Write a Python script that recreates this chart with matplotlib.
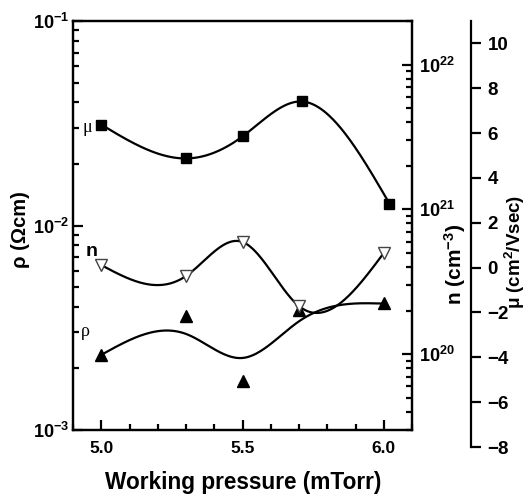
import numpy as np
import matplotlib
matplotlib.use("Agg")
import matplotlib.pyplot as plt
from matplotlib.ticker import FixedLocator, MultipleLocator, FuncFormatter, LogLocator, NullFormatter

plt.rcParams['font.family'] = 'Liberation Sans'
plt.rcParams['mathtext.fontset'] = 'custom'
plt.rcParams['mathtext.rm'] = 'Liberation Sans'
plt.rcParams['mathtext.bf'] = 'Liberation Sans:bold'
plt.rcParams['mathtext.it'] = 'Liberation Sans:italic'

# data
pressure = [5.0, 5.3, 5.5, 5.7, 6.0]
pressure_mu = [5.0, 5.3, 5.5, 5.71, 6.02]
rho = [2.33e-3, 3.61e-3, 1.74e-3, 3.86e-3, 4.18e-3]
rho_curve = [2.33e-3, 2.95e-3, 2.25e-3, 3.4e-3, 4.15e-3]   # smoothed line drawn through rho
n_conc = [4.13e20, 3.47e20, 5.96e20, 2.15e20, 5.0e20]
mu = [6.38, 4.87, 5.85, 7.41, 2.86]


def nat_spline(x, y, xs):
    # natural cubic spline
    x = np.asarray(x, float)
    y = np.asarray(y, float)
    n = len(x)
    h = np.diff(x)
    A = np.zeros((n, n))
    r = np.zeros(n)
    A[0, 0] = A[-1, -1] = 1
    for i in range(1, n - 1):
        A[i, i - 1] = h[i - 1]
        A[i, i] = 2 * (h[i - 1] + h[i])
        A[i, i + 1] = h[i]
        r[i] = 6 * ((y[i + 1] - y[i]) / h[i] - (y[i] - y[i - 1]) / h[i - 1])
    M = np.linalg.solve(A, r)
    out = np.empty_like(xs)
    for k, xv in enumerate(xs):
        i = min(max(np.searchsorted(x, xv) - 1, 0), n - 2)
        hi = h[i]
        a = x[i + 1] - xv
        b = xv - x[i]
        out[k] = (M[i] * a ** 3 + M[i + 1] * b ** 3) / (6 * hi) \
            + (y[i] / hi - M[i] * hi / 6) * a + (y[i + 1] / hi - M[i + 1] * hi / 6) * b
    return out


def pow10(v, p):
    return r"$\mathbf{10^{%d}}$" % round(np.log10(v))


W, H = 528, 497
fig = plt.figure(figsize=(W / 100, H / 100), dpi=100)
left, right, top, bottom = 73 / W, 412 / W, 1 - 21 / H, 1 - 430 / H
ax = fig.add_axes([left, bottom, right - left, top - bottom])
ax2 = ax.twinx()
ax3 = fig.add_axes([left, 1 - 447 / H, right - left, (447 - 21) / H])
ax3.patch.set_visible(False)

lw = 1.6
for a in (ax, ax2):
    for s in a.spines.values():
        s.set_linewidth(lw)

# left: resistivity
ax.set_yscale('log')
ax.set_ylim(1e-3, 1e-1)
ax.set_xlim(4.9, 6.1)
ax.xaxis.set_major_locator(FixedLocator([5.0, 5.5, 6.0]))
ax.xaxis.set_minor_locator(MultipleLocator(0.1))
ax.xaxis.set_major_formatter(FuncFormatter(lambda v, p: f"{v:.1f}"))
ax.yaxis.set_major_locator(FixedLocator([1e-3, 1e-2, 1e-1]))
ax.yaxis.set_minor_locator(LogLocator(base=10, subs=np.arange(2, 10)))
ax.yaxis.set_minor_formatter(NullFormatter())
ax.yaxis.set_major_formatter(FuncFormatter(pow10))
ax.tick_params(axis='both', which='both', direction='in', top=False, right=False, width=lw)
ax.tick_params(axis='both', which='major', length=7)
ax.tick_params(axis='x', which='major', labelsize=12.5, pad=8)
ax.tick_params(axis='y', which='major', labelsize=13, pad=3)
ax.tick_params(axis='both', which='minor', length=4)
for t in ax.get_xticklabels():
    t.set_fontweight('bold')

# right: carrier concentration
ax2.set_yscale('log')
ax2.set_ylim(3e19, 2e22)
ax2.yaxis.set_major_locator(FixedLocator([1e20, 1e21, 1e22]))
ax2.yaxis.set_minor_locator(LogLocator(base=10, subs=np.arange(2, 10)))
ax2.yaxis.set_minor_formatter(NullFormatter())
ax2.yaxis.set_major_formatter(FuncFormatter(pow10))
ax2.tick_params(axis='y', which='both', direction='in', width=lw)
ax2.tick_params(axis='y', which='major', length=7, labelsize=13, pad=5)
ax2.tick_params(axis='y', which='minor', length=4)

# third: mobility
ax3.set_xlim(4.9, 6.1)
ax3.set_ylim(-8, 11)
for k in ('left', 'top', 'bottom'):
    ax3.spines[k].set_visible(False)
ax3.spines['right'].set_position(('axes', (471 - 73) / (412 - 73)))
ax3.spines['right'].set_linewidth(lw)
ax3.set_xticks([])
ax3.yaxis.set_ticks_position('right')
ax3.set_yticks(np.arange(-8, 11, 2))
ax3.tick_params(axis='y', direction='out', length=7, width=lw, labelsize=13.5, pad=5)
for t in ax3.get_yticklabels():
    t.set_fontweight('bold')

xs = np.linspace(5.0, 6.0, 300)
xs_mu = np.linspace(pressure_mu[0], pressure_mu[-1], 300)

# curves
ax.plot(xs, 10 ** nat_spline(pressure, np.log10(rho_curve), xs), color='black', lw=1.6, zorder=2)
ax2.plot(xs, 10 ** nat_spline(pressure, np.log10(n_conc), xs), color='black', lw=1.6, zorder=2)
ax3.plot(xs_mu, nat_spline(pressure_mu, mu, xs_mu), color='black', lw=1.6, zorder=2)

# markers
ax.plot(pressure, rho, '^', color='black', ms=8, zorder=3)
ax2.plot(pressure, n_conc, 'v', mfc='white', mec='#444444', mew=1.0, ms=9, zorder=3)
ax3.plot(pressure_mu, mu, 's', color='black', ms=6.5, zorder=3)

# series tags
fig.text(87 / W, 1 - 128 / H, 'μ', fontsize=13, family='Liberation Serif', ha='center', va='center')
fig.text(92 / W, 1 - 251 / H, 'n', fontsize=14, fontweight='bold', ha='center', va='center')
fig.text(85 / W, 1 - 331 / H, 'ρ', fontsize=13, family='Liberation Serif', ha='center', va='center')

# axis titles
fig.text(21 / W, 1 - 230 / H, 'ρ (Ωcm)', rotation=90, fontsize=14.5, fontweight='bold', ha='center', va='center')
fig.text(243 / W, 1 - 482 / H, 'Working pressure (mTorr)', fontsize=16.3, fontweight='bold', ha='center', va='center')
fig.text(455 / W, 1 - 264 / H, r'n (cm$^{\mathbf{-3}}$)', rotation=90, fontsize=15, fontweight='bold',
         ha='center', va='center')
fig.text(515 / W, 1 - 252 / H, r'μ (cm$^{\mathbf{2}}$/Vsec)', rotation=90, fontsize=13.5, fontweight='bold',
         ha='center', va='center')

fig.savefig('out.png', dpi=100)
